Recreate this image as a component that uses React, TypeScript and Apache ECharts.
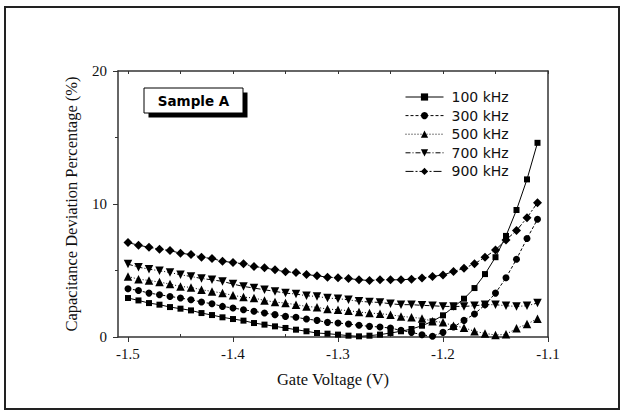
import React, { useEffect, useRef } from "react";
import * as echarts from "echarts";

const voltage = [
  -1.5, -1.49, -1.48, -1.47, -1.46, -1.45, -1.44, -1.43, -1.42, -1.41,
  -1.4, -1.39, -1.38, -1.37, -1.36, -1.35, -1.34, -1.33, -1.32, -1.31,
  -1.3, -1.29, -1.28, -1.27, -1.26, -1.25, -1.24, -1.23, -1.22, -1.21,
  -1.2, -1.19, -1.18, -1.17, -1.16, -1.15, -1.14, -1.13, -1.12, -1.11,
];

const f100 = [
  2.93, 2.75, 2.55, 2.43, 2.25, 2.13, 2.0, 1.8, 1.65, 1.48,
  1.35, 1.23, 1.05, 0.93, 0.8, 0.68, 0.55, 0.43, 0.3, 0.25,
  0.18, 0.1, 0.05, 0.1, 0.18, 0.3, 0.43, 0.6, 0.85, 1.18,
  1.63, 2.25, 2.88, 3.68, 4.73, 6.0, 7.6, 9.55, 11.85, 14.6,
];
const f300 = [
  3.63, 3.5, 3.3, 3.18, 3.05, 2.93, 2.8, 2.63, 2.5, 2.3,
  2.18, 2.05, 1.93, 1.8, 1.68, 1.55, 1.48, 1.35, 1.25, 1.1,
  1.05, 0.98, 0.88, 0.8, 0.75, 0.67, 0.5, 0.35, 0.17, 0.05,
  0.35, 0.75, 1.25, 1.73, 2.42, 3.3, 4.45, 5.85, 7.4, 8.85,
];
const f500 = [
  4.55, 4.35, 4.25, 4.13, 3.98, 3.8, 3.73, 3.55, 3.43, 3.3,
  3.13, 3.0, 2.93, 2.75, 2.63, 2.55, 2.43, 2.3, 2.23, 2.1,
  2.05, 1.98, 1.88, 1.8, 1.75, 1.68, 1.55, 1.48, 1.4, 1.18,
  1.1, 0.85, 0.7, 0.43, 0.27, 0.15, 0.2, 0.65, 0.97, 1.38,
];
const f700 = [
  5.48, 5.25, 5.1, 4.98, 4.85, 4.68, 4.55, 4.4, 4.3, 4.18,
  3.98, 3.8, 3.68, 3.55, 3.43, 3.3, 3.23, 3.1, 3.05, 2.93,
  2.88, 2.8, 2.68, 2.63, 2.6, 2.5, 2.43, 2.43, 2.38, 2.35,
  2.3, 2.3, 2.3, 2.35, 2.43, 2.43, 2.35, 2.3, 2.35, 2.55,
];
const f900 = [
  7.1, 6.9, 6.75, 6.6, 6.5, 6.3, 6.2, 6.0, 5.9, 5.7,
  5.6, 5.5, 5.3, 5.2, 5.05, 4.9, 4.85, 4.7, 4.6, 4.5,
  4.45, 4.4, 4.3, 4.25, 4.3, 4.3, 4.3, 4.35, 4.43, 4.55,
  4.67, 4.92, 5.17, 5.5, 6.0, 6.55, 7.3, 8.0, 8.97, 10.1,
];

const seriesNames = ["100 kHz", "300 kHz", "500 kHz", "700 kHz", "900 kHz"];
const xMajorTicks = [-1.5, -1.4, -1.3, -1.2, -1.1];
const xMinorTicks = [-1.45, -1.35, -1.25, -1.15];
const xAllTicks = [-1.5, -1.45, -1.4, -1.35, -1.3, -1.25, -1.2, -1.15, -1.1];

const X_MIN = -1.5095;
const X_MAX = -1.1;

export default function App() {
  const ref = useRef<HTMLDivElement>(null);

  useEffect(() => {
    if (!ref.current) return;
    const chart = echarts.init(ref.current, undefined, { renderer: "svg" });
    const axisColor = "#333";
    const serif = "Liberation Serif";

    const styles = [
      { values: f100, symbol: "rect", size: 6, rotate: 0, dash: "solid" as any },
      { values: f300, symbol: "circle", size: 7, rotate: 0, dash: [3, 2] },
      { values: f500, symbol: "triangle", size: 8.5, rotate: 0, dash: [1, 2] },
      { values: f700, symbol: "triangle", size: 8.5, rotate: 180, dash: [5, 2, 1, 2] },
      { values: f900, symbol: "diamond", size: 9, rotate: 0, dash: [8, 2, 2, 2] },
    ];

    const series = styles.map((s, i) => ({
      name: seriesNames[i],
      type: "line",
      xAxisIndex: 0,
      yAxisIndex: 0,
      data: voltage.map((v, k) => [v, s.values[k]]),
      symbol: s.symbol,
      symbolSize: s.size,
      symbolRotate: s.rotate,
      showAllSymbol: true,
      itemStyle: { color: "#000" },
      lineStyle: { color: "#000", width: 1, type: s.dash },
      emphasis: { disabled: true },
    }));

    const option: any = {
      animation: false,
      backgroundColor: "#fff",
      grid: { left: 118, top: 71, right: 76, bottom: 77 },
      legend: {
        orient: "vertical",
        left: 400,
        top: 85,
        itemWidth: 38,
        itemHeight: 9,
        itemGap: 4.6,
        data: seriesNames,
        lineStyle: { width: 1 },
        textStyle: {
          fontFamily: "DejaVu Sans",
          fontSize: 14,
          color: "#111",
          lineHeight: 14,
          padding: [0, 0, 0, 3],
        },
      },
      xAxis: [
        {
          type: "value",
          min: X_MIN,
          max: X_MAX,
          position: "bottom",
          axisLine: { show: true, onZero: false, lineStyle: { color: axisColor, width: 1.5 } },
          axisTick: { show: true, customValues: xMajorTicks, length: 5, inside: false, lineStyle: { color: axisColor, width: 1 } },
          axisLabel: {
            customValues: xMajorTicks,
            formatter: (v: number) => v.toFixed(1),
            fontFamily: serif,
            fontSize: 15,
            color: "#111",
            margin: 9,
          },
          splitLine: { show: false },
          name: "Gate Voltage (V)",
          nameLocation: "middle",
          nameGap: 34,
          nameTextStyle: { fontFamily: serif, fontSize: 16.5, color: "#111" },
        },
        {
          type: "value",
          min: X_MIN,
          max: X_MAX,
          position: "bottom",
          axisLine: { show: false },
          axisTick: { show: true, customValues: xMinorTicks, length: 3, inside: true, lineStyle: { color: axisColor } },
          axisLabel: { show: false },
          splitLine: { show: false },
        },
        {
          type: "value",
          min: X_MIN,
          max: X_MAX,
          position: "top",
          axisLine: { show: true, onZero: false, lineStyle: { color: axisColor, width: 1.5 } },
          axisTick: { show: true, customValues: xAllTicks, length: 3, inside: true, lineStyle: { color: axisColor } },
          axisLabel: { show: false },
          splitLine: { show: false },
        },
      ],
      yAxis: [
        {
          type: "value",
          min: 0,
          max: 20,
          interval: 10,
          position: "left",
          axisLine: { show: true, onZero: false, lineStyle: { color: axisColor, width: 1.5 } },
          axisTick: { show: true, length: 5, inside: false, lineStyle: { color: axisColor } },
          minorTick: { show: true, splitNumber: 2, length: 3, lineStyle: { color: axisColor } },
          axisLabel: { fontFamily: serif, fontSize: 15, color: "#111", margin: 11 },
          splitLine: { show: false },
          minorSplitLine: { show: false },
          name: "Capacitance Deviation Percentage (%)",
          nameLocation: "middle",
          nameGap: 38,
          nameTextStyle: { fontFamily: serif, fontSize: 16.5, color: "#111" },
        },
        {
          type: "value",
          min: 0,
          max: 20,
          interval: 10,
          position: "right",
          axisLine: { show: true, onZero: false, lineStyle: { color: axisColor, width: 1.5 } },
          axisTick: { show: false },
          axisLabel: { show: false },
          splitLine: { show: false },
        },
      ],
      graphic: [
        {
          type: "rect",
          shape: { x: 5, y: 7, width: 614, height: 402 },
          style: { fill: "none", stroke: "#222", lineWidth: 2 },
          silent: true,
          z: 100,
        },
        {
          type: "rect",
          shape: { x: 148.5, y: 92.5, width: 99, height: 25 },
          style: { fill: "#000" },
          silent: true,
          z: 100,
        },
        {
          type: "rect",
          shape: { x: 144, y: 88, width: 99, height: 25 },
          style: { fill: "#fff", stroke: "#000", lineWidth: 1 },
          silent: true,
          z: 101,
        },
        {
          type: "text",
          x: 193.5,
          y: 100.5,
          style: {
            text: "Sample A",
            fontFamily: "DejaVu Sans",
            fontWeight: "bold",
            fontSize: 13.5,
            fill: "#000",
            align: "center",
            verticalAlign: "middle",
          },
          silent: true,
          z: 102,
        },
      ],
      series,
    };

    chart.setOption(option);
    return () => chart.dispose();
  }, []);

  return (
    <div
      ref={ref}
      style={{ position: "fixed", left: 0, top: 0, width: 624, height: 414, background: "#fff" }}
    />
  );
}
